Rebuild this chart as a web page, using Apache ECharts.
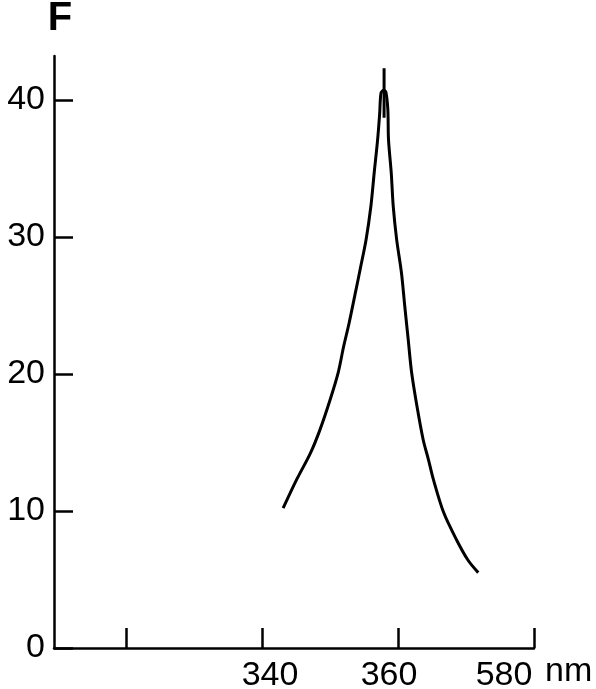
<!DOCTYPE html>
<html>
<head>
<meta charset="utf-8">
<title>F vs nm</title>
<script src="https://cdn.jsdelivr.net/npm/echarts@6/dist/echarts.min.js"></script>
<style>
  html, body { margin: 0; padding: 0; background: #fff; }
  #chart { width: 596px; height: 689px; }
</style>
</head>
<body>
<div id="chart"></div>
<script>
// wavelength (nm) and intensity F
const riseX = [343.1, 345.1, 347.1, 348.5, 350.0, 351.2, 352.0, 352.8, 353.8, 354.5, 355.3, 356.0, 356.5, 357.0, 357.3, 357.5, 357.9]
const riseY = [10.2, 12.3, 14.2, 15.9, 18.1, 20.1, 22.0, 23.7, 26.1, 27.8, 29.8, 32.2, 34.7, 37.1, 39.0, 40.5, 40.7]
const fallX = [358.2, 358.5, 358.6, 359.0, 359.3, 359.8, 360.5, 361.0, 361.5, 362.0, 362.8, 363.7, 364.5, 365.2, 366.7, 368.6, 370.3, 371.8]
const fallY = [40.6, 39.3, 37.1, 34.7, 32.2, 29.8, 27.4, 24.9, 22.5, 20.1, 17.6, 15.2, 13.7, 12.3, 9.9, 7.9, 6.4, 5.5]
// little vertical mark at the peak
const spikeX = [357.95, 357.95]
const spikeY = [42.3, 38.7]

const xTickValues = [320, 340, 360, 380]
const xLabelValues = [340, 360, 380]
const xLabelTexts = ['340', '360', '580']
const yTickValues = [0, 10, 20, 30, 40]

const curve = riseX.map((x, i) => [x, riseY[i]])
  .concat(fallX.map((x, i) => [x, fallY[i]]))
const spike = spikeX.map((x, i) => [x, spikeY[i]])

const font = '"Liberation Sans", Arial, sans-serif'
const richNames = ['a', 'b', 'c']

const chart = echarts.init(document.getElementById('chart'))

const options = {
  animation: false,
  backgroundColor: '#fff',
  grid: {
    left: 54,
    right: 62,
    top: 56,
    bottom: 41,
    outerBoundsMode: 'none'
  },
  xAxis: {
    type: 'value',
    min: 309.4,
    max: 380,
    name: 'nm',
    nameLocation: 'end',
    nameGap: 11,
    nameTextStyle: {
      color: '#000',
      fontFamily: font,
      fontSize: 34,
      verticalAlign: 'top',
      padding: [7, 0, 0, 0]
    },
    splitLine: { show: false },
    axisLine: { onZero: false, lineStyle: { color: '#000', width: 2.5 } },
    axisTick: {
      inside: true,
      length: 20,
      customValues: xTickValues,
      lineStyle: { color: '#000', width: 2.5 }
    },
    axisLabel: {
      customValues: xLabelValues,
      margin: 11,
      color: '#000',
      fontFamily: font,
      fontSize: 34,
      formatter: (v) => {
        const i = xLabelValues.indexOf(v)
        return i < 0 ? '' : '{' + richNames[i] + '|' + xLabelTexts[i] + '}'
      },
      rich: {
        a: { fontFamily: font, fontSize: 34, color: '#000', padding: [0, 0, 0, 16] },
        b: { fontFamily: font, fontSize: 34, color: '#000', padding: [0, 18, 0, 0] },
        c: { fontFamily: font, fontSize: 34, color: '#000', padding: [0, 60, 0, 0] }
      }
    }
  },
  yAxis: {
    type: 'value',
    min: 0,
    max: 43.2,
    name: 'F',
    nameLocation: 'end',
    nameGap: 17,
    nameTextStyle: {
      color: '#000',
      fontFamily: font,
      fontSize: 40,
      fontWeight: 'bold',
      padding: [0, 0, 0, 12]
    },
    splitLine: { show: false },
    axisLine: { show: true, lineStyle: { color: '#000', width: 2.5 } },
    axisTick: {
      show: true,
      inside: true,
      length: 19,
      customValues: yTickValues,
      lineStyle: { color: '#000', width: 2.5 }
    },
    axisLabel: {
      customValues: yTickValues,
      margin: 9,
      color: '#000',
      fontFamily: font,
      fontSize: 34
    }
  },
  series: [
    {
      name: 'F',
      type: 'line',
      data: curve,
      smooth: 0.3,
      showSymbol: false,
      lineStyle: { color: '#000', width: 3 }
    },
    {
      name: 'peak',
      type: 'line',
      data: spike,
      showSymbol: false,
      lineStyle: { color: '#000', width: 3 }
    }
  ]
}

chart.setOption(options)
</script>
</body>
</html>
